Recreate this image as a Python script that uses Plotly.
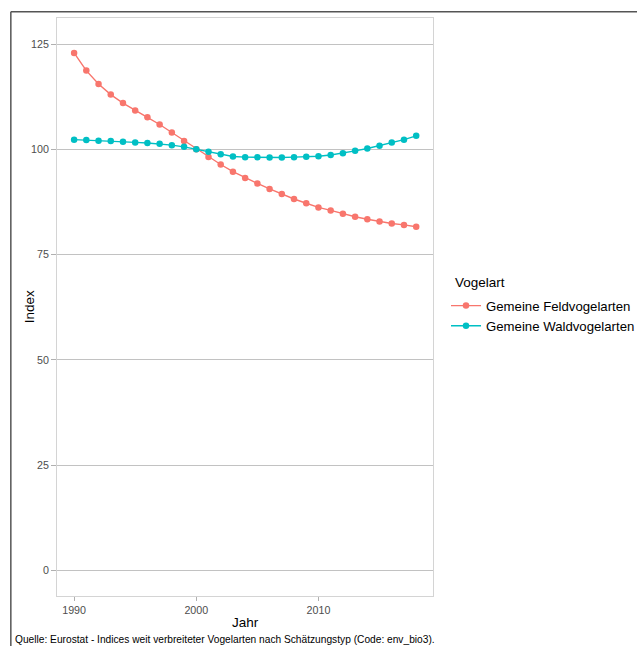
import plotly.graph_objects as go

years = list(range(1990, 2019))
feld = [122.9, 118.7, 115.5, 113.0, 111.0, 109.2, 107.6, 105.9, 104.0, 102.0,
        100.0, 98.2, 96.4, 94.7, 93.2, 91.9, 90.6, 89.4, 88.2, 87.2,
        86.2, 85.5, 84.7, 84.0, 83.4, 82.85, 82.4, 82.05, 81.6]
wald = [102.3, 102.2, 102.05, 102.0, 101.8, 101.65, 101.5, 101.3, 101.0, 100.6,
        100.0, 99.45, 98.85, 98.3, 98.15, 98.1, 98.05, 98.05, 98.15, 98.25,
        98.35, 98.65, 99.1, 99.65, 100.2, 100.85, 101.6, 102.3, 103.2]
series_names = ["Gemeine Feldvogelarten", "Gemeine Waldvogelarten"]
series_colors = ["#F8766D", "#00BFC4"]
y_ticks = [0, 25, 50, 75, 100, 125]
x_ticks = [1990, 2000, 2010]
legend_title = "Vogelart"
x_title = "Jahr"
y_title = "Index"
caption = "Quelle: Eurostat - Indices weit verbreiteter Vogelarten nach Schätzungstyp (Code: env_bio3)."

FONT = "Liberation Sans, Arial, sans-serif"

fig = go.Figure()
for name, vals, col in zip(series_names, [feld, wald], series_colors):
    fig.add_trace(go.Scatter(
        x=years, y=vals, name=name, mode="lines+markers",
        line=dict(color=col, width=1.4),
        marker=dict(color=col, size=6.5),
    ))

W, H = 639, 646
L, T, R, B = 57.3, 18.3, 434.7, 595.7
pw, ph = R - L, B - T

fig.update_layout(
    width=W, height=H,
    margin=dict(l=L, r=W - R, t=T, b=H - B, pad=0),
    paper_bgcolor="white", plot_bgcolor="white",
    font=dict(family=FONT, color="black"),
    showlegend=True,
    legend=dict(
        font=dict(size=13.2, color="black"),
        xref="container", yref="container",
        x=446 / W, y=1 - 290.5 / H, xanchor="left", yanchor="top",
        bgcolor="rgba(0,0,0,0)", tracegroupgap=0, itemwidth=30,
    ),
    xaxis=dict(
        range=[1988.6, 2019.4], tickvals=x_ticks,
        showgrid=False, zeroline=False,
        showline=True, mirror=True, linecolor="#d4d4d4", linewidth=1,
        ticks="outside", ticklen=4, tickcolor="#b0b0b0", tickwidth=1,
        tickfont=dict(size=10.7, color="#4D4D4D"),
        title=dict(text=x_title, font=dict(size=13.5, color="black"), standoff=2),
    ),
    yaxis=dict(
        range=[-6.1, 131.2], tickvals=y_ticks,
        showgrid=True, gridcolor="#c2c2c2", gridwidth=1.4,
        zeroline=False,
        showline=True, mirror=True, linecolor="#d4d4d4", linewidth=1,
        ticks="outside", ticklen=5, tickcolor="#b0b0b0", tickwidth=1,
        tickfont=dict(size=10.7, color="#4D4D4D"),
    ),
)

# y-axis title
fig.add_annotation(
    text=y_title, xref="paper", yref="paper", textangle=-90,
    x=(29.5 - L) / pw, y=(B - 307) / ph, xanchor="center", yanchor="middle",
    showarrow=False, font=dict(size=13.5, color="black"),
)
# legend title
fig.add_annotation(
    text=legend_title, xref="paper", yref="paper",
    x=(454 - L) / pw, y=(B - 283) / ph, xanchor="left", yanchor="middle",
    showarrow=False, font=dict(size=13.5, color="black"),
)
# caption
fig.add_annotation(
    text=caption, xref="paper", yref="paper",
    x=(13 - L) / pw, y=(B - 639.5) / ph, xanchor="left", yanchor="middle",
    showarrow=False, font=dict(size=10.2, color="black"),
)

# outer frame lines (top and left)
fig.add_shape(type="line", xref="paper", yref="paper",
              x0=(11 - L) / pw, x1=(639 - L) / pw, y0=(B - 12) / ph, y1=(B - 12) / ph,
              line=dict(color="#555555", width=1.5), layer="above")
fig.add_shape(type="line", xref="paper", yref="paper",
              x0=(11 - L) / pw, x1=(11 - L) / pw, y0=(B - 12) / ph, y1=(B - 646) / ph,
              line=dict(color="#555555", width=1.5), layer="above")

fig.write_html(
    "out.html",
    config={"displayModeBar": False},
    post_script="document.body.style.margin='0';document.body.style.overflow='hidden';",
)
